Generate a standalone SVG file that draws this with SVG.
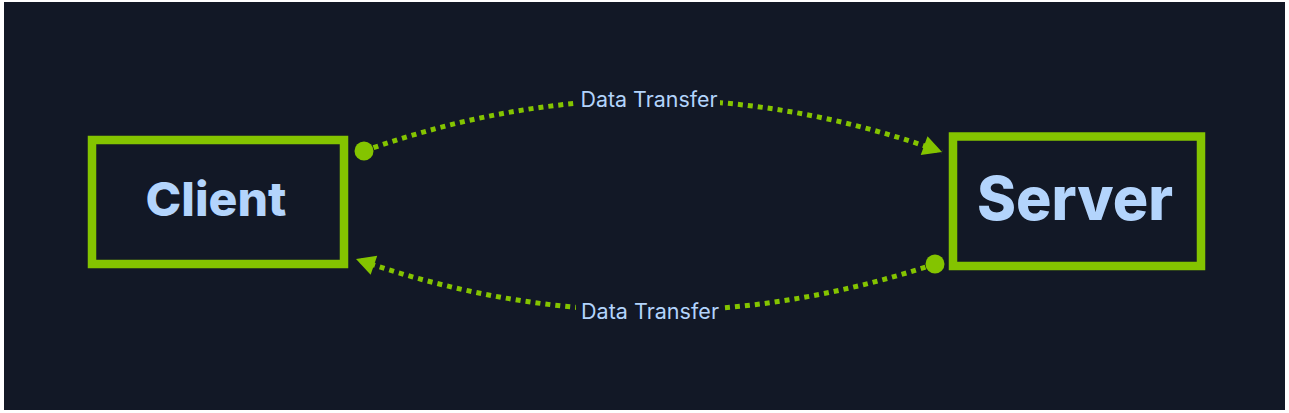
<svg xmlns="http://www.w3.org/2000/svg" width="1289" height="413" viewBox="0 0 1289 413">
  <defs>
    <style>
      .node-box { fill: none; stroke: #84c400; stroke-width: 8.5; }
      .node-label { fill: #b3d4fc; font-family: Inter, "Open Sans", "Liberation Sans", sans-serif; font-weight: 800; }
      .conn { fill: none; stroke: #84c400; stroke-width: 5; stroke-dasharray: 5 5; }
      .dot { fill: #84c400; }
      .edge-label { fill: #b3d4fc; font-family: Inter, "Open Sans", "Liberation Sans", sans-serif; font-size: 21px; font-weight: 400; }
      .label-bg { fill: #121826; }
    </style>
    <marker id="arrow" markerUnits="userSpaceOnUse" markerWidth="22" markerHeight="22" viewBox="0 0 20 22" refX="19" refY="11" orient="auto">
      <path d="M0,1 L19,11 L0,21 Z" fill="#84c400"/>
    </marker>
  </defs>
  <rect x="0" y="0" width="1289" height="413" fill="#ffffff"/>
  <rect x="4" y="2" width="1281" height="408" fill="#121826"/>

  <g id="connectors">
    <path class="conn" d="M 364 151 Q 653 48 942 152" marker-end="url(#arrow)"/>
    <circle class="dot" cx="364" cy="151" r="9.5"/>
    <rect class="label-bg" x="576" y="88" width="144" height="24"/>
    <text class="edge-label" x="649" y="106.7" text-anchor="middle" textLength="137" lengthAdjust="spacingAndGlyphs">Data Transfer</text>

    <path class="conn" d="M 935 264 Q 645 360 356 259" marker-end="url(#arrow)"/>
    <circle class="dot" cx="935" cy="264" r="9.5"/>
    <rect class="label-bg" x="576" y="300" width="146" height="24"/>
    <text class="edge-label" x="650" y="318.7" text-anchor="middle" textLength="138" lengthAdjust="spacingAndGlyphs">Data Transfer</text>
  </g>

  <g id="node-client">
    <rect class="node-box" x="92" y="140" width="252" height="124"/>
    <text class="node-label" x="216" y="216" font-size="47" text-anchor="middle" textLength="141" lengthAdjust="spacingAndGlyphs">Client</text>
  </g>

  <g id="node-server">
    <rect class="node-box" x="953" y="136.5" width="248" height="129.5"/>
    <text class="node-label" x="1075" y="219.5" font-size="60" text-anchor="middle" textLength="196" lengthAdjust="spacingAndGlyphs">Server</text>
  </g>
</svg>
